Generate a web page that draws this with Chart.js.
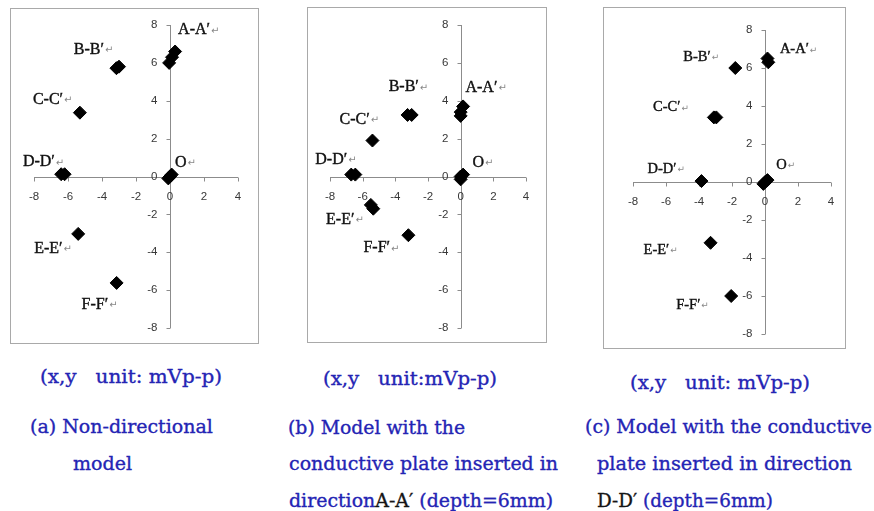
<!DOCTYPE html>
<html>
<head>
<meta charset="utf-8">
<script src="https://cdn.jsdelivr.net/npm/chart.js@4/dist/chart.umd.min.js"></script>
<style>
  body { margin: 0; background: #fff; width: 874px; height: 511px; position: relative; overflow: hidden; }
  canvas.panel { position: absolute; }
  .cap { position: absolute; white-space: pre; font-family: 'DejaVu Serif', serif; font-size: 19px;
         line-height: 20px; color: #2424b4; -webkit-text-stroke: 0.35px currentColor; transform-origin: 0 50%; }
  .cap .k { color: #151515; }
</style>
</head>
<body>
<canvas id="pa" class="panel" style="left:10px;top:8px" width="249" height="336"></canvas>
<canvas id="pb" class="panel" style="left:307px;top:7px" width="240" height="336"></canvas>
<canvas id="pc" class="panel" style="left:603px;top:7px" width="243" height="342"></canvas>

<div class="cap" data-w="182" style="left:40px;top:366px">(x,y   unit: mVp-p)</div>
<div class="cap" data-w="174" style="left:323px;top:368px">(x,y   unit:mVp-p)</div>
<div class="cap" data-w="180" style="left:630px;top:372px">(x,y   unit: mVp-p)</div>

<div class="cap" data-w="183" style="left:30px;top:416px">(a) Non-directional</div>
<div class="cap" data-w="59"  style="left:73px;top:453px">model</div>

<div class="cap" data-w="177" style="left:288px;top:417px">(b) Model with the</div>
<div class="cap" data-w="269" style="left:289px;top:453px">conductive plate inserted in</div>
<div class="cap" data-w="264" style="left:289px;top:490px">direction<span class="k">A-A′</span> (depth=6mm)</div>

<div class="cap" data-w="287" style="left:585px;top:416px">(c) Model with the conductive</div>
<div class="cap" data-w="255" style="left:597px;top:453px">plate inserted in direction</div>
<div class="cap" data-w="176" style="left:597px;top:490px"><span class="k">D-D′</span> (depth=6mm)</div>

<script>
// ── shared axis setup ───────────────────────────────────────────────────────
const GROUPS  = ['A-A′', 'B-B′', 'C-C′', 'D-D′', 'O', 'E-E′', 'F-F′'];
const X_TICKS = [-8, -6, -4, -2, 0, 2, 4];
const Y_TICKS = [-8, -6, -4, -2, 0, 2, 4, 6, 8];

// ── (a) non-directional model ───────────────────────────────────────────────
const aGroup = [0, 0, 0, 1, 1, 2, 3, 3, 4, 4, 4, 5, 6];
const aX     = [0.3, 0.12, -0.05, -3.15, -3.0, -5.3, -6.4, -6.2, 0, 0.1, -0.1, -5.4, -3.14];
const aY     = [6.6, 6.3, 6.0, 5.72, 5.8, 3.37, 0.12, 0.12, 0, 0.1, -0.1, -3.03, -5.62];

// ── (b) plate inserted in direction A-A' ────────────────────────────────────
const bGroup = [0, 0, 0, 1, 1, 2, 3, 3, 4, 4, 4, 5, 5, 6];
const bX     = [0.15, 0, 0, -3.25, -3.0, -5.4, -6.7, -6.45, 0, 0.15, 0, -5.5, -5.35, -3.2];
const bY     = [3.7, 3.4, 3.2, 3.25, 3.25, 1.9, 0.1, 0.1, 0, 0.1, -0.15, -1.5, -1.7, -3.1];

// ── (c) plate inserted in direction D-D' ────────────────────────────────────
const cGroup = [0, 0, 1, 2, 2, 3, 4, 4, 4, 5, 6];
const cX     = [0.15, 0.2, -1.8, -3.1, -2.95, -3.85, 0, 0.15, -0.1, -3.3, -2.05];
const cY     = [6.5, 6.3, 6.0, 3.4, 3.4, 0.05, 0, 0.1, -0.1, -3.2, -6.0];

// label placement (pixel offset from each group's centre), font size per panel
const LAYOUT = {
  pa: { pad: { left: 24, right: 21, top: 17, bottom: 16 }, font: 16,
        off: [[6, -27], [-44, -18], [-47, -13], [-40, -12], [5, -14], [-44, 15], [-35, 22]] },
  pb: { pad: { left: 23, right: 21, top: 18, bottom: 15 }, font: 16,
        off: [[4, -24], [-21, -28], [-33, -21], [-38, -15], [11, -14], [-46, 13], [-45, 13]] },
  pc: { pad: { left: 30, right: 15, top: 23, bottom: 15 }, font: 14.5,
        off: [[12, -11], [-52, -11], [-62, -10], [-54, -12], [11, -17], [-67, 7], [-55, 9]] },
};

const crossAxes = {
  id: 'crossAxes',
  beforeDatasetsDraw(chart) {
    const { ctx, scales: { x, y } } = chart;
    const x0 = Math.round(x.getPixelForValue(0)) + 0.5;
    const y0 = Math.round(y.getPixelForValue(0)) + 0.5;
    ctx.save();
    // frame
    ctx.strokeStyle = '#a9a9a9';
    ctx.lineWidth = 1;
    ctx.strokeRect(0.5, 0.5, chart.width - 1, chart.height - 1);
    // axes through the origin
    ctx.strokeStyle = '#8c8c8c';
    ctx.beginPath();
    ctx.moveTo(x0, y.getPixelForValue(8));
    ctx.lineTo(x0, y.getPixelForValue(-8));
    ctx.moveTo(x.getPixelForValue(-8), y0);
    ctx.lineTo(x.getPixelForValue(4), y0);
    Y_TICKS.forEach(v => {
      const py = Math.round(y.getPixelForValue(v)) + 0.5;
      ctx.moveTo(x0 - 4, py); ctx.lineTo(x0, py);
    });
    X_TICKS.forEach(v => {
      const px = Math.round(x.getPixelForValue(v)) + 0.5;
      ctx.moveTo(px, y0); ctx.lineTo(px, y0 + 4);
    });
    ctx.stroke();
    // tick labels
    ctx.fillStyle = '#383838';
    ctx.font = '11.5px "Liberation Sans", Arial, sans-serif';
    ctx.textAlign = 'right';
    ctx.textBaseline = 'middle';
    Y_TICKS.forEach(v => ctx.fillText(String(v), x0 - 13, y.getPixelForValue(v)));
    ctx.textAlign = 'center';
    X_TICKS.forEach(v => ctx.fillText(String(v), x.getPixelForValue(v), y0 + 19));
    ctx.restore();
  },
  afterDatasetsDraw(chart) {
    const { ctx, scales: { x, y } } = chart;
    const lay = LAYOUT[chart.canvas.id];
    const pts = chart.data.datasets[0].data;
    const grp = chart.data.datasets[0].group;
    ctx.save();
    ctx.textBaseline = 'middle';
    ctx.textAlign = 'left';
    GROUPS.forEach((name, g) => {
      const mine = pts.filter((_, i) => grp[i] === g);
      const cx = mine.reduce((s, p) => s + x.getPixelForValue(p.x), 0) / mine.length;
      const cy = mine.reduce((s, p) => s + y.getPixelForValue(p.y), 0) / mine.length;
      const lx = cx + lay.off[g][0], ly = cy + lay.off[g][1];
      ctx.font = lay.font + 'px "Liberation Serif", serif';
      ctx.fillStyle = '#111';
      ctx.strokeStyle = '#111';
      ctx.lineWidth = 0.4;
      ctx.fillText(name, lx, ly);
      ctx.strokeText(name, lx, ly);
      const w = ctx.measureText(name).width;
      ctx.font = (lay.font * 0.62) + 'px "DejaVu Sans", sans-serif';
      ctx.fillStyle = '#888';
      ctx.fillText('↵', lx + w + 1, ly + 1);
    });
    ctx.restore();
  }
};

function mkPanel(id, xs, ys, groups) {
  const lay = LAYOUT[id];
  new Chart(document.getElementById(id), {
    type: 'scatter',
    data: {
      datasets: [{
        data: xs.map((v, i) => ({ x: v, y: ys[i] })),
        group: groups,
        pointStyle: 'rectRot',
        pointRadius: 6.5,
        backgroundColor: '#000',
        borderColor: '#000',
        borderWidth: 1,
      }]
    },
    options: {
      responsive: false,
      animation: false,
      events: [],
      layout: { padding: lay.pad },
      scales: {
        x: { type: 'linear', min: -8, max: 4, display: false },
        y: { type: 'linear', min: -8, max: 8, display: false },
      },
      plugins: { legend: { display: false }, tooltip: { enabled: false } },
    },
    plugins: [crossAxes],
  });
}

mkPanel('pa', aX, aY, aGroup);
mkPanel('pb', bX, bY, bGroup);
mkPanel('pc', cX, cY, cGroup);

// stretch caption lines to their set widths
document.querySelectorAll('.cap').forEach(el => {
  const w = el.getBoundingClientRect().width;
  el.style.transform = 'scaleX(' + (Number(el.dataset.w) / w).toFixed(3) + ')';
});
</script>
</body>
</html>
